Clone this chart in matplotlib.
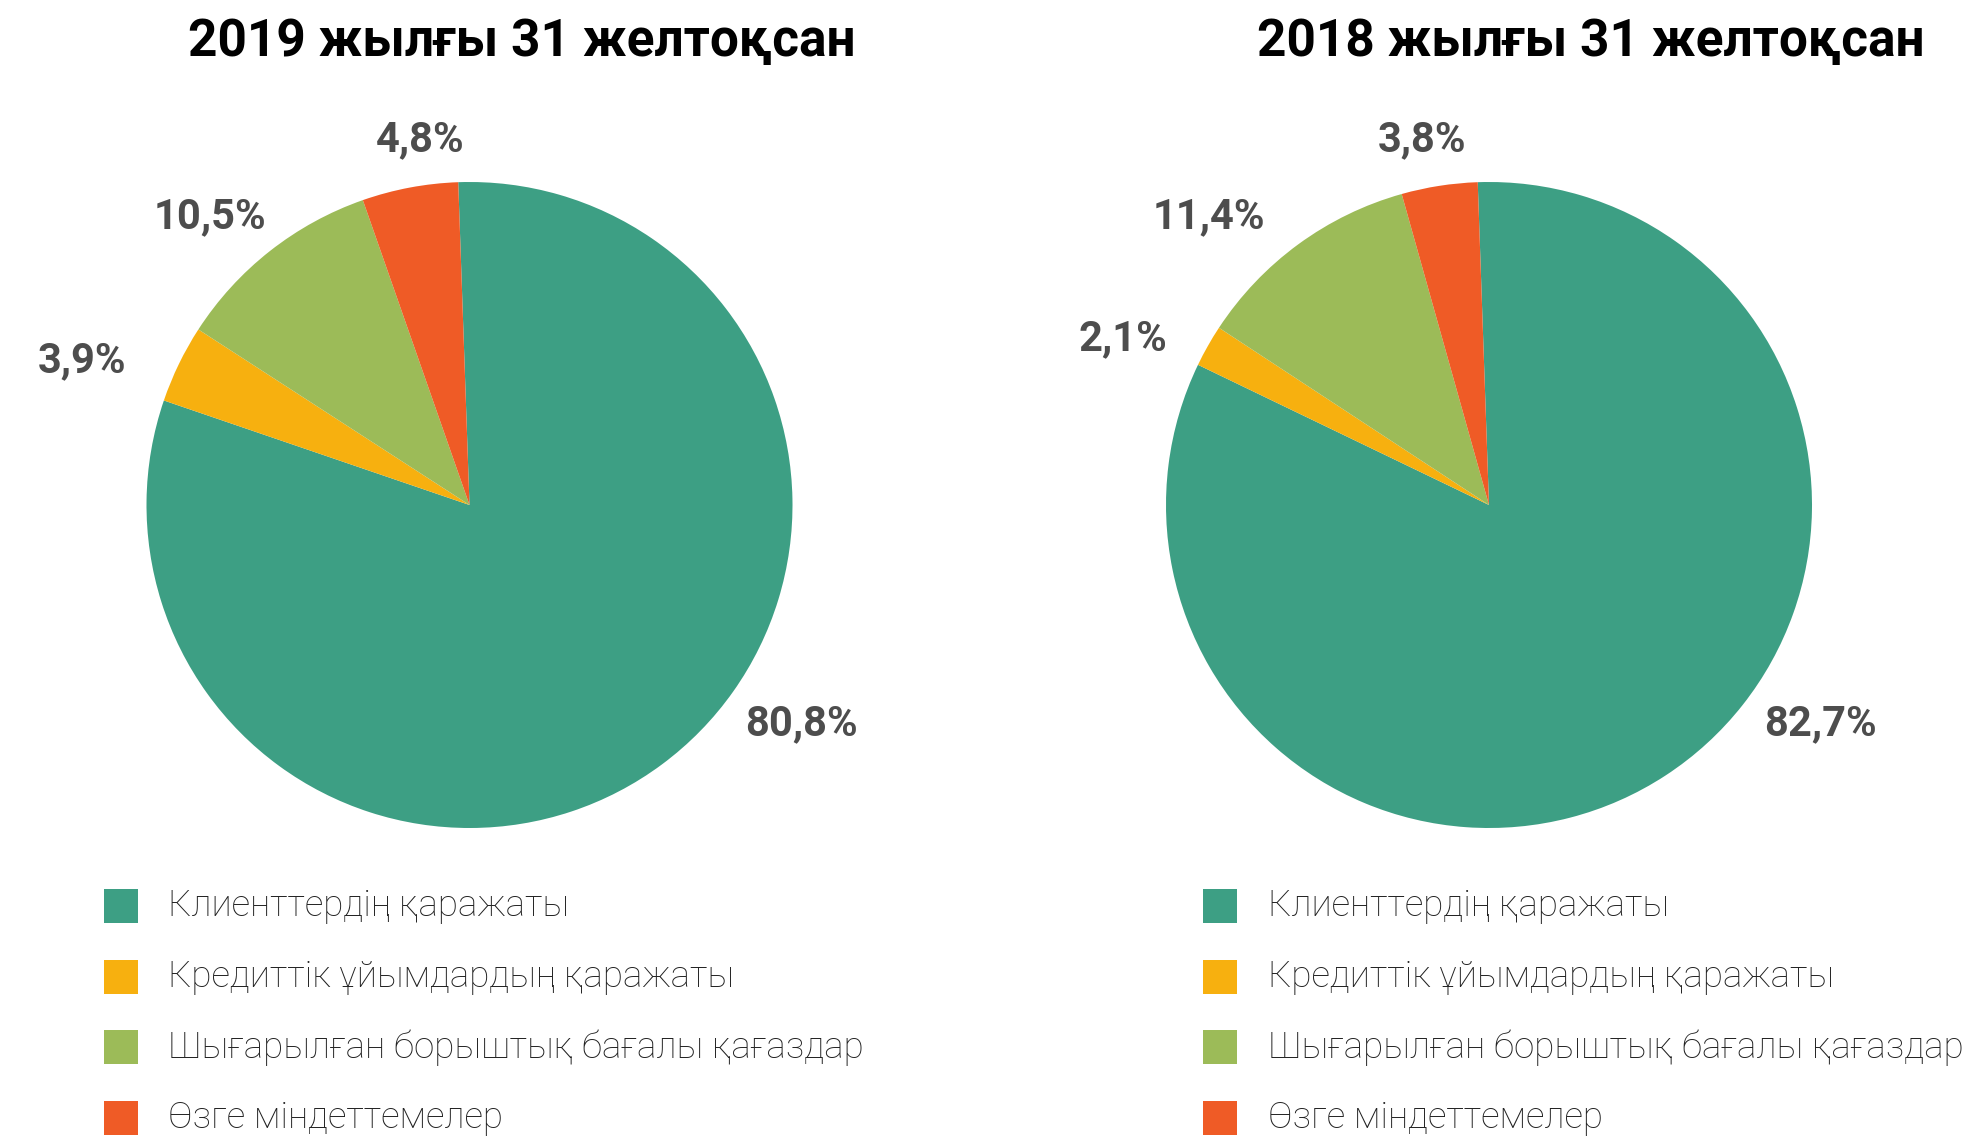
import matplotlib
matplotlib.use("Agg")
import matplotlib.pyplot as plt
from matplotlib.patches import Rectangle
import numpy as np

plt.rcParams['font.family'] = ['Roboto', 'DejaVu Sans']

# data
categories = ['Клиенттердің қаражаты', 'Кредиттік ұйымдардың қаражаты',
              'Шығарылған борыштық бағалы қағаздар', 'Өзге міндеттемелер']
colors = ['#3d9f84', '#f7b00f', '#9cbb58', '#ef5b26']
titles = ['2019 жылғы 31 желтоқсан', '2018 жылғы 31 желтоқсан']
shares_2019 = [80.8, 3.9, 10.5, 4.8]
shares_2018 = [82.7, 2.1, 11.4, 3.8]
labels_2019 = ['80,8%', '3,9%', '10,5%', '4,8%']
labels_2018 = ['82,7%', '2,1%', '11,4%', '3,8%']

W, H = 1979, 1138
fig = plt.figure(figsize=(W / 100, H / 100), dpi=100)

R = 323
centers = [(469.5, 505), (1489, 505)]
title_x = [522, 1591]
# label placement: (angle, radius) in pie units
label_pos = [
    [(-33.4, 1.23), (159.6, 1.28), (132, 1.20), (97.7, 1.14)],
    [(-33.4, 1.23), (155.5, 1.245), (134.2, 1.245), (100.4, 1.15)],
]
legend_x = [103.5, 1203]

for i, (shares, labels) in enumerate([(shares_2019, labels_2019), (shares_2018, labels_2018)]):
    cx, cy = centers[i]
    ax = fig.add_axes([(cx - R) / W, (H - cy - R) / H, 2 * R / W, 2 * R / H])
    ax.pie(shares, colors=colors, startangle=92, counterclock=False,
           radius=1, wedgeprops=dict(linewidth=0))
    ax.set_xlim(-1, 1)
    ax.set_ylim(-1, 1)
    ax.set_aspect('auto')
    ax.axis('off')
    for lab, (ang, r) in zip(labels, label_pos[i]):
        a = np.deg2rad(ang)
        ax.text(r * np.cos(a), r * np.sin(a), lab, ha='center', va='center',
                fontsize=30, fontweight='bold', color='#4d4d4d', clip_on=False)

    fig.text(title_x[i] / W, 1 - 42 / H, titles[i], ha='center', va='center',
             fontsize=37, fontweight='bold', color='black')

    # legend
    for j, (cat, col) in enumerate(zip(categories, colors)):
        yc = 906 + j * 70.7
        sq = 34
        fig.add_artist(Rectangle((legend_x[i] / W, 1 - (yc + sq / 2) / H), sq / W, sq / H,
                                 transform=fig.transFigure, facecolor=col, edgecolor='none'))
        fig.text((legend_x[i] + 64.5) / W, 1 - yc / H, cat, ha='left', va='center',
                 fontsize=26.5, fontweight='light', color='#222222')

fig.savefig('out.png', dpi=100)
